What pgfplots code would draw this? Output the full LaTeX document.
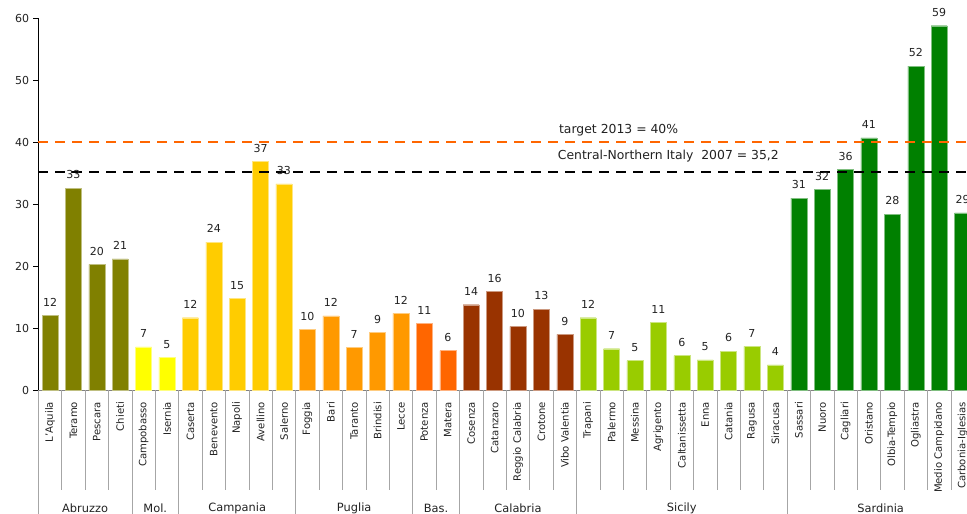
\documentclass[border=0pt]{standalone}
\usepackage{fontspec}
\setmainfont{DejaVu Sans}
\usepackage{pgfplots}
\pgfplotsset{compat=1.18}
\definecolor{cAbr}{HTML}{808000}
\definecolor{cMol}{HTML}{FFFF00}
\definecolor{cCam}{HTML}{FFCC00}
\definecolor{cPug}{HTML}{FF9900}
\definecolor{cBas}{HTML}{FF6600}
\definecolor{cCal}{HTML}{993300}
\definecolor{cSic}{HTML}{99CC00}
\definecolor{cSar}{HTML}{008000}
\definecolor{txt}{HTML}{222222}
\newcommand{\cf}{\fontsize{10.1}{11}\selectfont}
\newcommand{\vf}{\fontsize{11}{12}\selectfont}
\newcommand{\rf}{\fontsize{11.4}{12}\selectfont}
\newcommand{\tf}{\fontsize{12.4}{14}\selectfont}
\begin{document}
\begin{tikzpicture}
\begin{axis}[
  x=23.4pt, y=6.2pt,
  xmin=-0.5, xmax=39.5, ymin=0, ymax=60,
  axis x line=bottom, axis y line=left, axis line style={-},
  x axis line style={gray},
  y axis line style={black},
  ytick={0,10,...,60}, xtick={0,...,39},
  xticklabels={L'Aquila,Teramo,Pescara,Chieti,Campobasso,Isernia,Caserta,Benevento,Napoli,Avellino,Salerno,Foggia,Bari,Taranto,Brindisi,Lecce,Potenza,Matera,Cosenza,Catanzaro,Reggio Calabria,Crotone,Vibo Valentia,Trapani,Palermo,Messina,Agrigento,Caltanissetta,Enna,Catania,Ragusa,Siracusa,Sassari,Nuoro,Cagliari,Oristano,Olbia-Tempio,Ogliastra,Medio Campidano,Carbonia-Iglesias},
  x tick style={draw=none},
  major tick length=5pt, tick align=outside,
  y tick style={black, line width=0.6pt},
  xticklabel style={rotate=90, anchor=east, inner xsep=6.5pt, inner ysep=0pt, font=\cf, text=txt},
  yticklabel style={font=\vf, text=txt, inner sep=4pt},
  /pgf/number format/assume math mode=true,
  ybar, bar width=16pt,
  nodes near coords={\pgfmathprintnumber[fixed,precision=0]{\pgfplotspointmeta}},
  nodes near coords style={font=\vf, text=txt, inner sep=0pt, anchor=south, yshift=9pt},
  clip=false,
]
\addplot[fill=cAbr, draw=cAbr!50!white, bar shift=0pt] coordinates {(0,12.1) (1,32.6) (2,20.3) (3,21.2)};
\addplot[fill=cMol, draw=cMol!50!white, bar shift=0pt] coordinates {(4,7.0) (5,5.3)};
\addplot[fill=cCam, draw=cCam!50!white, bar shift=0pt] coordinates {(6,11.7) (7,23.9) (8,14.8) (9,36.9) (10,33.3)};
\addplot[fill=cPug, draw=cPug!50!white, bar shift=0pt] coordinates {(11,9.8) (12,12.0) (13,6.9) (14,9.3) (15,12.4)};
\addplot[fill=cBas, draw=cBas!50!white, bar shift=0pt] coordinates {(16,10.8) (17,6.4)};
\addplot[fill=cCal, draw=cCal!50!white, bar shift=0pt] coordinates {(18,13.8) (19,15.9) (20,10.3) (21,13.1) (22,9.0)};
\addplot[fill=cSic, draw=cSic!50!white, bar shift=0pt] coordinates {(23,11.7) (24,6.7) (25,4.8) (26,10.9) (27,5.6) (28,4.9) (29,6.3) (30,7.1) (31,4.1)};
\addplot[fill=cSar, draw=cSar!50!white, bar shift=0pt] coordinates {(32,31.0) (33,32.4) (34,35.6) (35,40.7) (36,28.4) (37,52.3) (38,58.8) (39,28.6)};
% reference lines
\draw[cBas, line width=2pt, dash pattern=on 10pt off 7pt] (axis cs:-0.5,40) -- (axis cs:39.5,40);
\draw[black, line width=2pt, dash pattern=on 10pt off 7pt] (axis cs:-0.5,35.2) -- (axis cs:39.5,35.2);
\node[anchor=west, font=\tf, text=txt, inner sep=0pt] at (axis cs:21.75,41.9) {target 2013 = 40\%};
\node[anchor=west, font=\tf, text=txt, inner sep=0pt] at (axis cs:21.7,37.7) {Central-Northern Italy\ \ 2007 = 35,2};
% separators
\pgfplotsinvokeforeach{0.5,1.5,2.5,4.5,6.5,7.5,8.5,9.5,11.5,12.5,13.5,14.5,16.5,18.5,19.5,20.5,21.5,23.5,24.5,25.5,26.5,27.5,28.5,29.5,30.5,32.5,33.5,34.5,35.5,36.5,37.5,38.5}{
  \draw[gray!70, line width=0.6pt] (axis cs:#1,0) -- (axis cs:#1,-16.1);
}
\pgfplotsinvokeforeach{-0.5,3.5,5.5,10.5,15.5,17.5,22.5,31.5}{
  \draw[gray!70, line width=0.6pt] (axis cs:#1,0) -- (axis cs:#1,-21);
}
\node[font=\rf, text=txt] at (axis cs:1.5,-19.1) {Abruzzo};
\node[font=\rf, text=txt] at (axis cs:4.5,-19.1) {Mol.};
\node[font=\rf, text=txt] at (axis cs:8,-19.1) {Campania};
\node[font=\rf, text=txt] at (axis cs:13,-19.1) {Puglia};
\node[font=\rf, text=txt] at (axis cs:16.5,-19.1) {Bas.};
\node[font=\rf, text=txt] at (axis cs:20,-19.1) {Calabria};
\node[font=\rf, text=txt] at (axis cs:27,-19.1) {Sicily};
\node[font=\rf, text=txt] at (axis cs:35.5,-19.1) {Sardinia};
\coordinate (BL) at (axis cs:-2.137,-19.95);
\coordinate (TR) at (axis cs:39.19,62.95);
\end{axis}
\pgfresetboundingbox
\path[use as bounding box] (BL) rectangle (TR);
\end{tikzpicture}
\end{document}
